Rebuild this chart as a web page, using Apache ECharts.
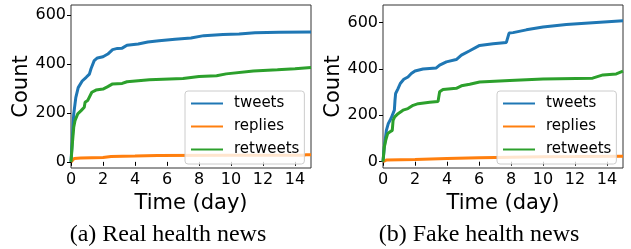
<!DOCTYPE html>
<html>
<head>
<meta charset="utf-8">
<script src="https://cdn.jsdelivr.net/npm/echarts@6/dist/echarts.min.js"></script>
<style>
html,body{margin:0;padding:0;background:#fff;}
#chart{width:631px;height:249px;}
</style>
</head>
<body>
<div id="chart"></div>
<script>
// values, [day, count]
var realTweets = [[0,0],[0.08,90],[0.17,195],[0.3,262],[0.45,303],[0.7,330],[0.95,345],[1.15,358],[1.25,380],[1.45,413],[1.65,424],[2,429],[2.3,440],[2.6,458],[2.9,463],[3.2,464],[3.5,476],[4.2,481],[4.8,489],[5.5,494],[6.5,500],[7.5,505],[8.3,515],[9.5,520],[10.5,522],[11.5,527],[13,529],[15,530]];
var realReplies = [[0,0],[0.08,8],[0.2,14],[0.6,16],[2,18],[2.5,22],[4,24],[5.4,26],[10,27],[14.5,27],[14.7,29],[15,29]];
var realRetweets = [[0,0],[0.08,70],[0.17,141],[0.25,168],[0.42,196],[0.63,209],[0.83,223],[0.88,243],[1.04,250],[1.15,257],[1.3,284],[1.56,293],[2,297],[2.3,307],[2.6,318],[3.2,320],[3.5,327],[4.9,335],[7,340],[8,348],[9.1,351],[9.7,359],[11.4,371],[12.9,376],[14,380],[15,385]];
var fakeTweets = [[0,0],[0.08,63],[0.21,135],[0.33,164],[0.5,186],[0.71,222],[0.75,265],[0.79,294],[0.94,315],[1.08,337],[1.3,355],[1.56,365],[1.77,380],[2,391],[2.5,399],[3.33,404],[3.54,416],[3.96,430],[4.58,440],[4.9,459],[5.42,478],[6.04,501],[6.88,508],[7.71,514],[7.88,554],[8.13,556],[8.96,568],[10,580],[11.46,591],[13.1,599],[15,607]];
var fakeReplies = [[0,0],[0.2,7],[2,10],[4,14],[6,17],[8,19],[10,21],[12,22],[15,24]];
var fakeRetweets = [[0,0],[0.08,63],[0.17,92],[0.29,121],[0.42,128],[0.58,135],[0.63,178],[0.73,193],[0.94,207],[1.25,222],[1.56,229],[1.88,243],[2.2,250],[2.92,256],[3.44,259],[3.54,301],[3.75,311],[4.58,316],[4.9,327],[5.42,334],[6.04,343],[7.92,350],[10,356],[13.1,360],[13.75,374],[14.58,378],[15,390]];

var xTicks = [0,2,4,6,8,10,12,14];
var yTicks = [0,200,400,600];
var names = ['tweets','replies','retweets'];
var colors = ['#1f77b4','#ff7f0e','#2ca02c'];
var captions = ['(a) Real health news','(b) Fake health news'];

var font = 'DejaVu Sans';
var myChart = echarts.init(document.getElementById('chart'));

function makeX(i){
	return {
		type:'value', gridIndex:i, min:0, max:15,
		name:'Time (day)', nameLocation:'middle', nameGap:18,
		nameTextStyle:{fontFamily:font, fontSize:21, color:'#000'},
		axisLine:{show:false},
		splitLine:{show:false},
		axisTick:{show:true, length:4, customValues:xTicks, lineStyle:{color:'#000'}},
		axisLabel:{customValues:xTicks, fontFamily:font, fontSize:16, color:'#000', margin:4}
	};
}
function makeY(i, max, min){
	return {
		type:'value', gridIndex:i, min:min, max:max,
		name:'Count', nameLocation:'middle', nameGap:38,
		nameTextStyle:{fontFamily:font, fontSize:21, color:'#000'},
		axisLine:{show:false},
		splitLine:{show:false},
		axisTick:{show:true, length:4, customValues:yTicks, lineStyle:{color:'#000'}},
		axisLabel:{customValues:yTicks, fontFamily:font, fontSize:16, color:'#000', margin:5}
	};
}
function makeLegend(left){
	return {
		orient:'vertical', left:left, top:91,
		data:names,
		itemWidth:32, itemHeight:14, itemGap:8,
		itemStyle:{opacity:0},
		padding:[5,5,7,5],
		borderColor:'#ccc', borderWidth:1, borderRadius:3,
		backgroundColor:'rgba(255,255,255,0.8)',
		textStyle:{fontFamily:font, fontSize:15, color:'#000', padding:[0,0,0,6]}
	};
}
function line(name, data, gi, color){
	return {
		type:'line', name:name, data:data, xAxisIndex:gi, yAxisIndex:gi,
		symbol:'none', color:color, lineStyle:{width:3, color:color}, z:2
	};
}

var series = [];
var sets = [[realTweets, realReplies, realRetweets],[fakeTweets, fakeReplies, fakeRetweets]];
for (var g = 0; g < 2; g++) {
	for (var k = 0; k < 3; k++) {
		series.push(line(names[k], sets[g][k], g, colors[k]));
	}
}

var option = {
	animation:false,
	grid:[
		{left:71, top:5, width:240, height:163, show:true, borderColor:'#333', borderWidth:1, backgroundColor:'transparent'},
		{left:383, top:5, width:240, height:163, show:true, borderColor:'#333', borderWidth:1, backgroundColor:'transparent'}
	],
	title:[
		{text:captions[0], left:163, top:218, textAlign:'center', textStyle:{fontFamily:'Liberation Serif', fontWeight:'normal', fontSize:24, color:'#000'}},
		{text:captions[1], left:474, top:218, textAlign:'center', textStyle:{fontFamily:'Liberation Serif', fontWeight:'normal', fontSize:24, color:'#000'}}
	],
	legend:[makeLegend(185), makeLegend(497)],
	xAxis:[makeX(0), makeX(1)],
	yAxis:[makeY(0, 640, -25), makeY(1, 675, -27)],
	series:series
};
myChart.setOption(option);
window.onresize = myChart.resize;
</script>
</body>
</html>
